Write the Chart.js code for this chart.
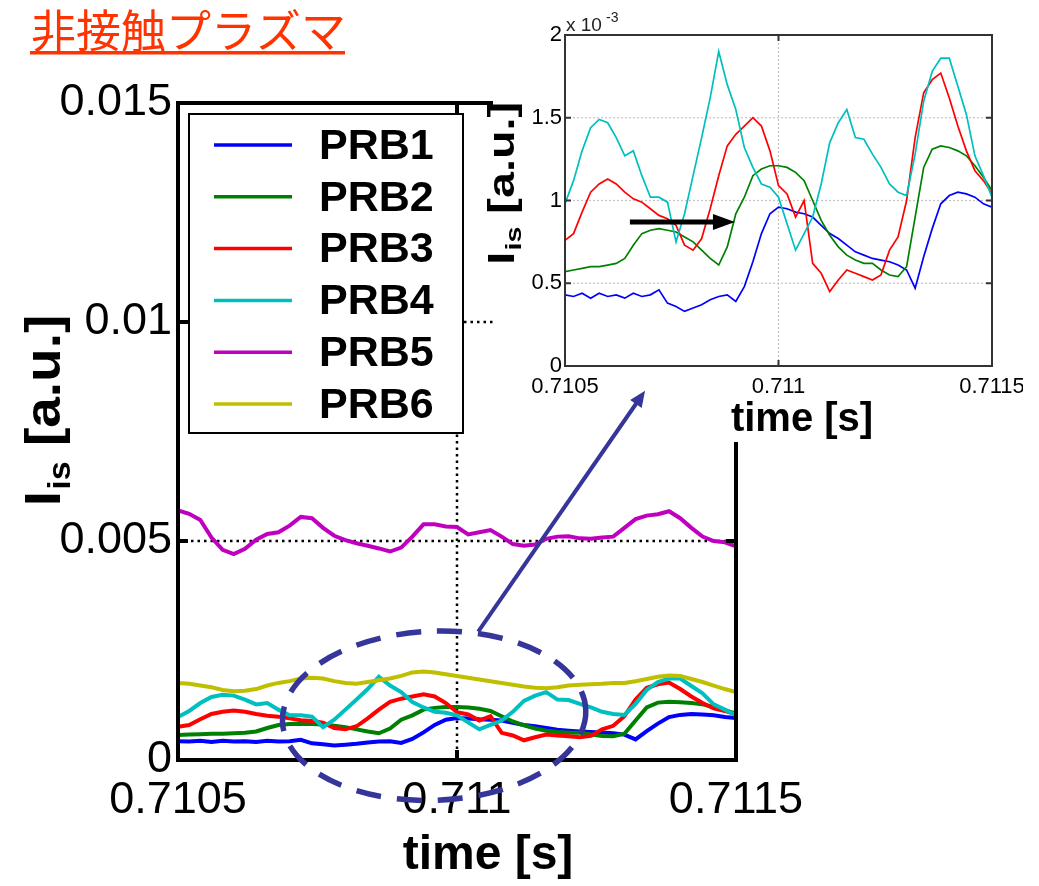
<!DOCTYPE html>
<html>
<head>
<meta charset="utf-8">
<script src="https://cdn.jsdelivr.net/npm/chart.js@4.4.1/dist/chart.umd.min.js"></script>
<style>
html,body{margin:0;padding:0;background:#fff;}
#wrap{position:relative;width:1039px;height:886px;overflow:hidden;}
#main{position:absolute;left:0;top:0;}
#insetBox{position:absolute;left:478px;top:8px;width:545px;height:434px;}
#overlay{position:absolute;left:0;top:0;pointer-events:none;}
</style>
</head>
<body>
<div id="wrap">
  <canvas id="main" width="1039" height="886"></canvas>
  <div id="insetBox"><canvas id="inset" width="545" height="434"></canvas></div>
  <canvas id="overlay" width="1039" height="886"></canvas>
</div>
<script>
// sampling grid (s) and probe signals, values in units of 1e-3 [a.u.]
const timeStart = 0.7105;
const timeStep = 0.00002;

const seriesNames = ['PRB1', 'PRB2', 'PRB3', 'PRB4', 'PRB5', 'PRB6'];
const seriesColors = ['#0000ff', '#008000', '#ff0000', '#00bfbf', '#bf00bf', '#bfbf00'];

const prb1 = [0.43,0.42,0.44,0.41,0.44,0.42,0.43,0.41,0.44,0.42,0.43,0.46,0.38,0.36,0.33,0.35,0.37,0.40,0.42,0.43,
              0.39,0.48,0.63,0.80,0.92,0.96,0.95,0.93,0.92,0.90,0.85,0.80,0.77,0.73,0.69,0.67,0.65,0.64,0.63,0.61,
              0.58,0.47,0.66,0.83,0.98,1.03,1.05,1.04,1.02,0.98,0.96];
const prb2 = [0.57,0.58,0.59,0.60,0.60,0.61,0.62,0.65,0.73,0.80,0.82,0.83,0.82,0.81,0.78,0.75,0.70,0.65,0.61,0.72,
              0.92,1.02,1.15,1.19,1.21,1.21,1.20,1.17,1.12,1.00,0.88,0.79,0.72,0.67,0.64,0.62,0.62,0.58,0.55,0.54,
              0.60,0.90,1.20,1.31,1.33,1.32,1.30,1.27,1.21,1.14,1.06];
const prb3 = [0.76,0.80,0.93,1.05,1.10,1.13,1.10,1.05,1.01,0.99,0.95,0.91,0.89,0.85,0.73,0.70,0.77,0.95,1.15,1.33,
              1.40,1.45,1.50,1.45,1.30,1.09,1.04,0.90,1.00,0.62,0.56,0.45,0.52,0.58,0.56,0.54,0.52,0.55,0.70,0.78,
              1.00,1.38,1.65,1.73,1.77,1.62,1.45,1.30,1.18,1.12,1.04];
const prb4 = [0.98,1.12,1.30,1.44,1.49,1.47,1.38,1.27,1.30,1.15,1.02,1.02,0.99,0.75,0.92,1.15,1.38,1.62,1.90,1.70,
              1.55,1.32,1.20,1.10,1.08,1.02,0.86,0.70,0.80,0.90,1.10,1.35,1.47,1.55,1.38,1.37,1.28,1.20,1.10,1.05,
              1.03,1.28,1.60,1.78,1.86,1.86,1.69,1.52,1.27,1.15,1.02];
const prb5 = [5.70,5.62,5.48,5.08,4.80,4.70,4.82,5.03,5.16,5.20,5.35,5.55,5.52,5.30,5.12,5.02,4.95,4.89,4.83,4.76,
              4.85,5.10,5.38,5.38,5.33,5.32,5.15,5.20,5.25,5.10,4.93,4.89,4.92,5.05,5.10,5.11,5.06,5.05,5.08,5.10,
              5.30,5.50,5.58,5.61,5.68,5.52,5.30,5.10,5.00,4.97,4.88];
const prb6 = [1.76,1.74,1.70,1.66,1.60,1.57,1.58,1.62,1.70,1.76,1.80,1.86,1.88,1.86,1.80,1.76,1.74,1.78,1.82,1.86,
              1.92,2.00,2.02,2.00,1.96,1.92,1.88,1.84,1.80,1.76,1.72,1.68,1.65,1.64,1.66,1.70,1.72,1.73,1.74,1.76,
              1.76,1.80,1.85,1.90,1.93,1.92,1.85,1.78,1.70,1.62,1.55];
const allSeries = [prb1, prb2, prb3, prb4, prb5, prb6];
const insetSeries = [0, 1, 2, 3];

const xTickValues = [0.7105, 0.711, 0.7115];
const xTickLabels = ['0.7105', '0.711', '0.7115'];
const mainYTickValues = [0, 5, 10, 15];
const mainYTickLabels = ['0', '0.005', '0.01', '0.015'];
const insetYTickValues = [0, 0.5, 1, 1.5, 2];
const insetYTickLabels = ['0', '0.5', '1', '1.5', '2'];

// annotations in data coordinates of the main axes
const zoomEllipse = {t: 0.710959, v: 1.01, dt: 0.000272, dv: 1.93};
const zoomArrow = {t0: 0.711038, v0: 2.93, t1: 0.711337, v1: 8.43};
// delay arrow in inset data coordinates
const delayArrow = {t0: 0.710652, t1: 0.710898, v: 0.87};

const SANS = '"Liberation Sans", Arial, sans-serif';

function points(vals) {
  return vals.map((v, i) => ({x: timeStart + i * timeStep, y: v}));
}

function axis(min, max, tickVals, tickLabels, font, pad, size, isX) {
  return {
    type: 'linear', min: min, max: max,
    afterBuildTicks: s => { s.ticks = tickVals.map(v => ({value: v})); },
    afterFit: s => {
      if (isX) s.height = size; else s.width = size;
      s.paddingLeft = 0; s.paddingRight = 0; s.paddingTop = 0; s.paddingBottom = 0;
    },
    grid: {display: false, drawTicks: false},
    border: {display: false},
    ticks: {color: '#000', font: font, padding: pad, maxRotation: 0, autoSkip: false,
      callback: (v, i) => tickLabels[i]}
  };
}

function line(ctx, x0, y0, x1, y1) {
  ctx.beginPath(); ctx.moveTo(x0, y0); ctx.lineTo(x1, y1); ctx.stroke();
}

function arrowHead(ctx, x0, y0, x1, y1, len, half) {
  const a = Math.atan2(y1 - y0, x1 - x0);
  ctx.beginPath();
  ctx.moveTo(x1, y1);
  ctx.lineTo(x1 - len * Math.cos(a) + half * Math.sin(a), y1 - len * Math.sin(a) - half * Math.cos(a));
  ctx.lineTo(x1 - len * Math.cos(a) - half * Math.sin(a), y1 - len * Math.sin(a) + half * Math.cos(a));
  ctx.closePath();
  ctx.fill();
}

// rotated "I_is [a.u.]" label, stretch lengthens it along the axis
function iisTitle(ctx, cx, cy, size, stretch) {
  ctx.save();
  ctx.translate(cx, cy);
  ctx.rotate(-Math.PI / 2);
  ctx.scale(stretch, 1);
  ctx.fillStyle = '#000';
  ctx.textBaseline = 'alphabetic';
  ctx.textAlign = 'left';
  const big = 'bold ' + size + 'px ' + SANS;
  const small = 'bold ' + Math.round(size * 0.62) + 'px ' + SANS;
  ctx.font = big; const wI = ctx.measureText('I').width; const wR = ctx.measureText(' [a.u.]').width;
  ctx.font = small; const wS = ctx.measureText('is').width;
  const x0 = -(wI + wS + wR) / 2, b = size * 0.36;
  ctx.font = big; ctx.fillText('I', x0, b);
  ctx.font = small; ctx.fillText('is', x0 + wI + 1, b + size * 0.2);
  ctx.font = big; ctx.fillText(' [a.u.]', x0 + wI + wS + 1, b);
  ctx.restore();
}

function frameTicks(ctx, a, xs, ys, xv, yv, len) {
  xv.forEach(v => {
    const px = xs.getPixelForValue(v);
    line(ctx, px, a.bottom, px, a.bottom - len);
    line(ctx, px, a.top, px, a.top + len);
  });
  yv.forEach(v => {
    const py = ys.getPixelForValue(v);
    line(ctx, a.left, py, a.left + len, py);
    line(ctx, a.right, py, a.right - len, py);
  });
}

const mainDecor = {
  id: 'mainDecor',
  beforeDatasetsDraw(chart) {
    const {ctx, chartArea: a, scales: {x, y}} = chart;
    ctx.save();
    ctx.strokeStyle = '#000'; ctx.lineWidth = 2.5; ctx.setLineDash([2.5, 4]);
    mainYTickValues.slice(1, -1).forEach(v => {
      const py = y.getPixelForValue(v); line(ctx, a.left, py, a.right, py);
    });
    xTickValues.slice(1, -1).forEach(v => {
      const px = x.getPixelForValue(v); line(ctx, px, a.top, px, a.bottom);
    });
    ctx.restore();
  },
  afterDraw(chart) {
    const {ctx, chartArea: a, scales: {x, y}} = chart;
    ctx.save();
    // axes box and inward ticks
    ctx.strokeStyle = '#000'; ctx.lineWidth = 4;
    ctx.strokeRect(a.left, a.top, a.right - a.left, a.bottom - a.top);
    frameTicks(ctx, a, x, y, xTickValues, mainYTickValues, 10);

    // legend
    const lx = a.left + 11, ly = a.top + 11, lw = 274, lh = 319;
    ctx.fillStyle = '#fff'; ctx.fillRect(lx, ly, lw, lh);
    ctx.lineWidth = 2; ctx.strokeRect(lx, ly, lw, lh);
    ctx.font = 'bold 43px ' + SANS; ctx.textBaseline = 'middle'; ctx.textAlign = 'left';
    seriesNames.forEach((name, i) => {
      const ry = ly + 31 + i * 51.8;
      ctx.strokeStyle = seriesColors[i]; ctx.lineWidth = 3.5;
      line(ctx, lx + 25, ry, lx + 103, ry);
      ctx.fillStyle = '#000'; ctx.fillText(name, lx + 130, ry + 2);
    });

    // dashed zoom ellipse
    const cx = x.getPixelForValue(zoomEllipse.t), cy = y.getPixelForValue(zoomEllipse.v);
    const rx = x.getPixelForValue(zoomEllipse.t + zoomEllipse.dt) - cx;
    const ry = cy - y.getPixelForValue(zoomEllipse.v + zoomEllipse.dv);
    ctx.strokeStyle = '#35359a'; ctx.lineWidth = 5.5; ctx.setLineDash([25, 16]);
    ctx.beginPath(); ctx.ellipse(cx, cy, rx, ry, -0.04, 0, Math.PI * 2); ctx.stroke();
    ctx.setLineDash([]);

    // title and axis titles
    ctx.fillStyle = '#ff3300'; ctx.font = '45px "Noto Sans CJK JP", sans-serif';
    ctx.textBaseline = 'middle'; ctx.textAlign = 'left';
    ctx.fillText('非接触プラズマ', 31, 31);
    ctx.fillRect(30, 51, 315, 3.5);

    ctx.fillStyle = '#000'; ctx.font = 'bold 48px ' + SANS; ctx.textAlign = 'center';
    ctx.fillText('time [s]', 488, 856);
    iisTitle(ctx, 42, 411, 50, 1.1);
    ctx.restore();
  }
};

const insetDecor = {
  id: 'insetDecor',
  beforeDraw(chart) {
    const ctx = chart.ctx;
    ctx.save(); ctx.fillStyle = '#fff'; ctx.fillRect(15, 0, chart.width - 15, chart.height); ctx.restore();
  },
  beforeDatasetsDraw(chart) {
    const {ctx, chartArea: a, scales: {x, y}} = chart;
    ctx.save();
    ctx.strokeStyle = '#c4c4c4'; ctx.lineWidth = 1.2; ctx.setLineDash([2, 2]);
    insetYTickValues.slice(1, -1).forEach(v => {
      const py = y.getPixelForValue(v); line(ctx, a.left, py, a.right, py);
    });
    xTickValues.slice(1, -1).forEach(v => {
      const px = x.getPixelForValue(v); line(ctx, px, a.top, px, a.bottom);
    });
    ctx.restore();
  },
  afterDraw(chart) {
    const {ctx, chartArea: a, scales: {x, y}} = chart;
    ctx.save();
    ctx.strokeStyle = '#333'; ctx.lineWidth = 2;
    ctx.strokeRect(a.left, a.top, a.right - a.left, a.bottom - a.top);
    frameTicks(ctx, a, x, y, xTickValues, insetYTickValues, 6);

    // delay arrow
    const x0 = x.getPixelForValue(delayArrow.t0), x1 = x.getPixelForValue(delayArrow.t1);
    const py = y.getPixelForValue(delayArrow.v);
    ctx.strokeStyle = '#000'; ctx.fillStyle = '#000'; ctx.lineWidth = 5;
    line(ctx, x0, py, x1 - 14, py);
    arrowHead(ctx, x0, py, x1, py, 22, 8);

    // exponent
    ctx.fillStyle = '#222'; ctx.textAlign = 'left'; ctx.textBaseline = 'alphabetic';
    ctx.font = '19px ' + SANS; ctx.fillText('x 10', a.left + 1, a.top - 4);
    ctx.font = '14px ' + SANS; ctx.fillText('-3', a.left + 41, a.top - 13);

    ctx.fillStyle = '#000'; ctx.font = 'bold 40px ' + SANS; ctx.textAlign = 'center'; ctx.textBaseline = 'middle';
    ctx.fillText('time [s]', 324, 412);
    iisTitle(ctx, 23, 176, 36, 1.3);
    ctx.restore();
  }
};

const mainChart = new Chart(document.getElementById('main'), {
  type: 'line',
  data: {
    datasets: allSeries.map((vals, i) => ({
      label: seriesNames[i], data: points(vals),
      borderColor: seriesColors[i], borderWidth: 4, pointRadius: 0, tension: 0, fill: false,
      order: allSeries.length - 1 - i
    }))
  },
  options: {
    responsive: false, animation: false, events: [],
    layout: {padding: {left: 0, top: 103, right: 303, bottom: 0}},
    plugins: {legend: {display: false}, tooltip: {enabled: false}},
    scales: {
      x: axis(0.7105, 0.7115, xTickValues, xTickLabels, {family: SANS, size: 45}, 14, 126, true),
      y: axis(0, 15, mainYTickValues, mainYTickLabels, {family: SANS, size: 45}, 6, 178, false)
    }
  },
  plugins: [mainDecor]
});

new Chart(document.getElementById('inset'), {
  type: 'line',
  data: {
    datasets: insetSeries.map(i => ({
      label: seriesNames[i], data: points(allSeries[i]),
      borderColor: seriesColors[i], borderWidth: 1.7, pointRadius: 0, tension: 0, fill: false,
      order: insetSeries.length - 1 - i
    }))
  },
  options: {
    responsive: false, animation: false, events: [],
    layout: {padding: {left: 0, top: 27, right: 31, bottom: 0}},
    plugins: {legend: {display: false}, tooltip: {enabled: false}},
    scales: {
      x: axis(0.7105, 0.7115, xTickValues, xTickLabels, {family: SANS, size: 22}, 8, 76, true),
      y: axis(0, 2, insetYTickValues, insetYTickLabels, {family: SANS, size: 22}, 3, 87, false)
    }
  },
  plugins: [insetDecor]
});

// blue pointer from the ellipse to the inset, drawn over both charts
(function () {
  const ctx = document.getElementById('overlay').getContext('2d');
  const {x, y} = mainChart.scales;
  const x0 = x.getPixelForValue(zoomArrow.t0), y0 = y.getPixelForValue(zoomArrow.v0);
  const x1 = x.getPixelForValue(zoomArrow.t1), y1 = y.getPixelForValue(zoomArrow.v1);
  ctx.strokeStyle = '#35359a'; ctx.fillStyle = '#35359a'; ctx.lineWidth = 4;
  line(ctx, x0, y0, x1 - (x1 - x0) * 0.03, y1 - (y1 - y0) * 0.03);
  arrowHead(ctx, x0, y0, x1, y1, 16, 7);
})();
</script>
</body>
</html>
